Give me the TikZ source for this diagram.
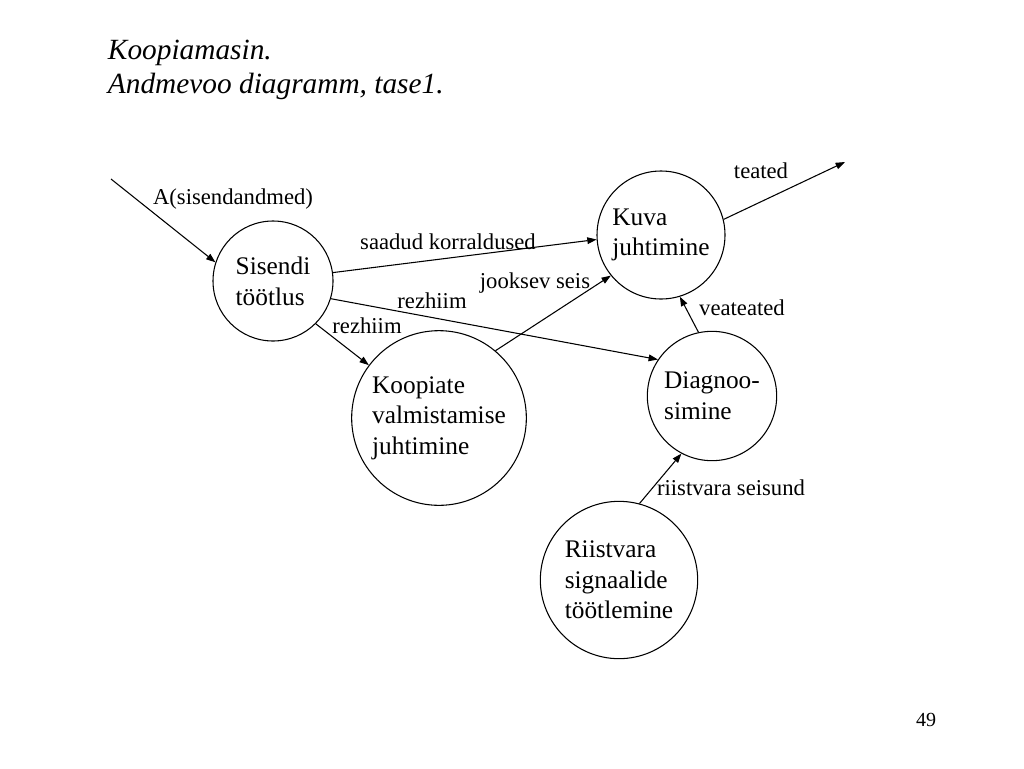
\documentclass[tikz,border=0pt]{standalone}
\usepackage{fontspec}
\setmainfont{Liberation Serif}
\usetikzlibrary{arrows.meta}

\begin{document}
\begin{tikzpicture}[->,>={Triangle[length=7pt,width=5pt]},x=0.75pt,y=-0.75pt,
    line width=0.8pt,
    proc/.style={circle,draw,inner sep=0pt,align=left,font=\fontsize{19}{23}\selectfont},
    flow/.style={anchor=base,font=\fontsize{17}{20}\selectfont}]
  \useasboundingbox (0,0) rectangle (1024,768);

  \node[anchor=base west,font=\fontsize{22}{26}\selectfont\itshape] (title) at (103,59) {Koopiamasin.};
  \node[anchor=base west,font=\fontsize{22}{26}\selectfont\itshape] (subtitle) at (103,93) {Andmevoo diagramm, tase1.};

  \node[proc,minimum size=90pt]  (sis)  at (273,281) {Sisendi\\töötlus};
  \node[proc,minimum size=96pt]  (kuva) at (661,235) {Kuva\\juhtimine};
  \node[proc,minimum size=131pt] (kopi) at (439,418) {Koopiate\\valmistamise\\juhtimine};
  \node[proc,minimum size=97pt]  (diag) at (712,396) {Diagnoo-\\simine};
  \node[proc,minimum size=118pt] (riis) at (619,580) {Riistvara\\signaalide\\töötlemine};

  \coordinate (in)  at (111,179);
  \coordinate (out) at (845,162);

  \path (in) edge (sis.162);
  \path (sis.8) edge (kuva.184)
        (sis.-17) edge (diag.146)
        (sis.-45) edge (kopi.143);
  \path (kopi.50) edge (kuva.219);
  \path (diag.102) edge (kuva.287);
  \path (riis.75) edge (diag.242);
  \path (kuva.14) edge (out);

  \node[flow] (lin)   at (233,204) {A(sisendandmed)};
  \node[flow] (lsk)   at (448,249) {saadud korraldused};
  \node[flow] (lrez1) at (432,308) {rezhiim};
  \node[flow] (lrez2) at (367,333) {rezhiim};
  \node[flow] (ljs)   at (535,288) {jooksev seis};
  \node[flow] (lout)  at (761,178) {teated};
  \node[flow] (lvea)  at (742,315) {veateated};
  \node[flow] (lrs)   at (731,495) {riistvara seisund};

  \node[anchor=base,font=\fontsize{15}{18}\selectfont] (page) at (926,726) {49};
\end{tikzpicture}
\end{document}
